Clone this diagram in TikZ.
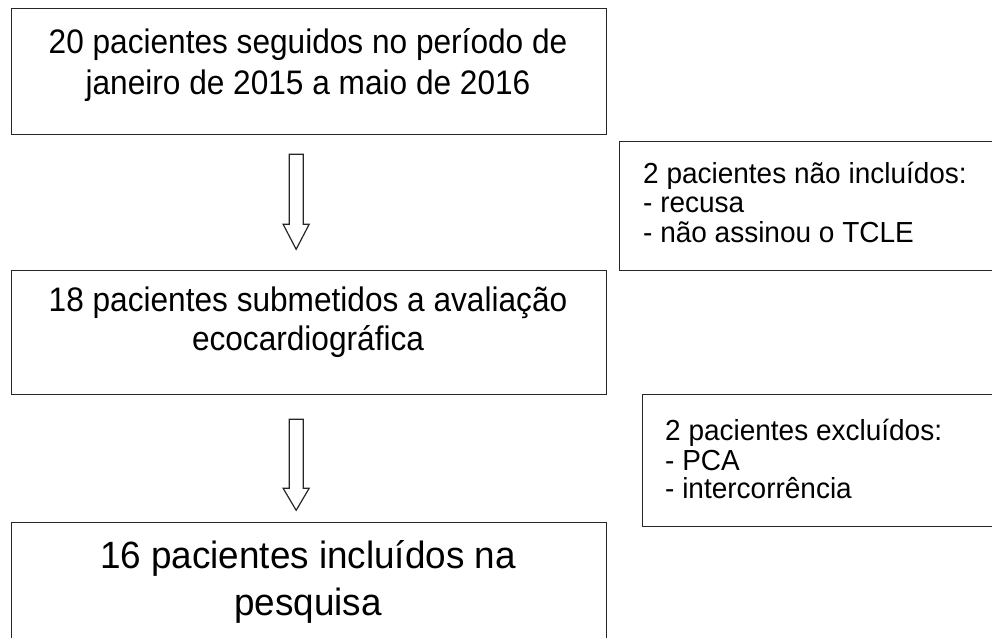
\documentclass[tikz,border=0pt]{standalone}
\usepackage{fontspec}
\setmainfont{Liberation Sans}
\usetikzlibrary{calc}
\newcommand{\narrowtext}[2]{\scalebox{#1}[1]{#2}}
\begin{document}
\begin{tikzpicture}[x=1pt,y=-1pt,
  box/.style={draw=black!85,line width=1.3pt,fill=none,inner sep=0pt,anchor=north west},
  mainline/.style={anchor=base,inner sep=0pt,font=\fontsize{34}{40}\selectfont},
  bigline/.style={anchor=base,inner sep=0pt,font=\fontsize{38}{45}\selectfont},
  sideline/.style={anchor=base west,inner sep=0pt,font=\fontsize{29}{30}\selectfont},
  blk/.style={draw=black!85,line width=1.2pt,fill=white,line join=miter}]
\useasboundingbox (0,0) rectangle (992,637);
\clip (0,0) rectangle (992,637);
% main boxes
\node[box,minimum width=595pt,minimum height=126pt] (b1) at (11,8) {};
\node[box,minimum width=595pt,minimum height=124pt] (b2) at (11,270) {};
\node[box,minimum width=595pt,minimum height=140pt] (b3) at (11,522) {};
% side boxes
\node[box,minimum width=390pt,minimum height=129pt] (s1) at (619,141) {};
\node[box,minimum width=370pt,minimum height=132pt] (s2) at (642,394) {};
% texts
\node[mainline] (t1a) at (308,53) {\narrowtext{0.93}{20 pacientes seguidos no período de}};
\node[mainline] (t1b) at (308,94) {\narrowtext{0.93}{janeiro de 2015 a maio de 2016}};
\node[mainline] (t2a) at (308,311) {\narrowtext{0.93}{18 pacientes submetidos a avaliação}};
\node[mainline] (t2b) at (308,350) {\narrowtext{0.93}{ecocardiográfica}};
\node[bigline] (t3a) at (308,568) {\narrowtext{0.97}{16 pacientes incluídos na}};
\node[bigline] (t3b) at (308,615) {\narrowtext{0.97}{pesquisa}};
\node[sideline] (u1) at (643,183) {\narrowtext{0.965}{2 pacientes não incluídos:}};
\node[sideline] (u2) at (643,212) {\narrowtext{0.965}{- recusa}};
\node[sideline] (u3) at (643,242) {\narrowtext{0.965}{- não assinou o TCLE}};
\node[sideline] (v1) at (665,440) {\narrowtext{0.965}{2 pacientes excluídos:}};
\node[sideline] (v2) at (665,470) {\narrowtext{0.965}{- PCA}};
\node[sideline] (v3) at (665,498) {\narrowtext{0.965}{- intercorrência}};
% block arrows
\draw[blk] ([xshift=-20pt,yshift=-19pt]b1.south) -- ++(14,0) -- ++(0,70) -- ++(6,0)
  -- ++(-13,25) -- ++(-13,-25) -- ++(6,0) -- cycle;
\draw[blk] ([xshift=-20pt,yshift=-24pt]b2.south) -- ++(14,0) -- ++(0,69) -- ++(6,0)
  -- ++(-13,22) -- ++(-13,-22) -- ++(6,0) -- cycle;
\end{tikzpicture}
\end{document}
